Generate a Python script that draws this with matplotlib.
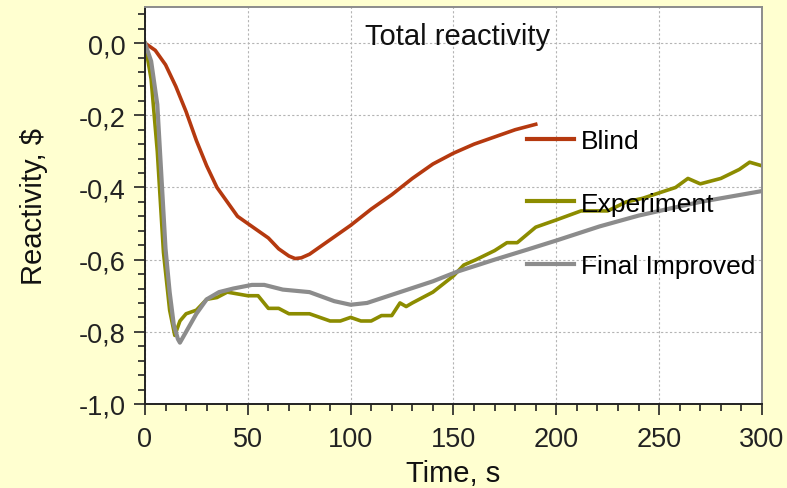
import matplotlib
matplotlib.use("Agg")
import matplotlib.pyplot as plt
from matplotlib.ticker import MultipleLocator, FuncFormatter

plt.rcParams['font.family'] = ['Liberation Sans', 'DejaVu Sans']

# Total reactivity vs time, three cases
blind_t = [0, 5, 10, 15, 20, 25, 30, 35, 40, 45, 50, 55, 60, 65, 70, 73, 76,
           80, 90, 100, 110, 120, 130, 140, 150, 160, 170, 180, 190]
blind_v = [0, -0.02, -0.06, -0.12, -0.19, -0.27, -0.34, -0.40, -0.44, -0.48,
           -0.50, -0.52, -0.54, -0.57, -0.59, -0.597, -0.595, -0.585, -0.545,
           -0.505, -0.46, -0.42, -0.375, -0.335, -0.305, -0.28, -0.26, -0.24,
           -0.225]

exp_t = [0, 3, 6, 9, 12, 14.5, 17, 20, 25, 30, 35, 40, 45, 50, 55, 60, 65, 70,
         80, 90, 95, 100, 105, 110, 115, 120, 124, 127, 130, 140, 150, 155, 161,
         170, 176, 181, 190, 200, 212, 225, 234, 242, 250, 258, 264, 270, 280,
         289, 294, 300]
exp_v = [0, -0.10, -0.30, -0.58, -0.74, -0.81, -0.77, -0.75, -0.74, -0.71,
         -0.705, -0.69, -0.695, -0.70, -0.70, -0.735, -0.735, -0.75, -0.75,
         -0.77, -0.77, -0.76, -0.77, -0.77, -0.755, -0.755, -0.72, -0.73,
         -0.72, -0.69, -0.645, -0.615, -0.60, -0.575, -0.553, -0.553, -0.51,
         -0.49, -0.465, -0.465, -0.44, -0.43, -0.415, -0.40, -0.375, -0.39,
         -0.375, -0.35, -0.33, -0.34]

fin_t = [0, 3, 6, 8, 10, 12, 14, 16, 17, 20, 25, 30, 36, 43, 52, 58, 67, 80,
         92, 100, 108, 116, 124, 140, 152, 170, 186, 200, 221, 240, 254, 270,
         285, 300]
fin_v = [0, -0.05, -0.17, -0.37, -0.57, -0.69, -0.78, -0.82, -0.83, -0.80,
         -0.75, -0.71, -0.69, -0.68, -0.67, -0.67, -0.683, -0.69, -0.715,
         -0.725, -0.72, -0.705, -0.69, -0.66, -0.633, -0.60, -0.572, -0.547,
         -0.508, -0.478, -0.46, -0.44, -0.425, -0.41]

bg = '#FFFFD0'
fig = plt.figure(figsize=(7.87, 4.89), dpi=100, facecolor=bg)
ax = fig.add_axes([0.1842, 0.1718, 0.7840, 0.8118])
ax.set_facecolor('white')

ax.plot(blind_t, blind_v, color='#B5390F', lw=2.6, label='Blind')
ax.plot(exp_t, exp_v, color='#8C8C00', lw=2.6, label='Experiment')
ax.plot(fin_t, fin_v, color='#8C8C8C', lw=3.0, label='Final Improved')

ax.set_xlim(0, 300)
ax.set_ylim(-1.0, 0.1)
ax.xaxis.set_major_locator(MultipleLocator(50))
ax.xaxis.set_minor_locator(MultipleLocator(10))
ax.yaxis.set_major_locator(MultipleLocator(0.2))
ax.yaxis.set_minor_locator(MultipleLocator(0.04))
ax.yaxis.set_major_formatter(FuncFormatter(lambda v, p: f"{v:.1f}".replace('.', ',').replace('-0,0', '0,0')))

ax.tick_params(axis='both', which='major', direction='out', length=8, width=1.2,
               labelsize=19.5, colors='#222222', pad=6)
ax.tick_params(axis='both', which='minor', direction='out', length=5, width=1.2,
               colors='#222222')
ax.tick_params(axis='x', pad=8)

ax.grid(True, which='major', color='#B4B4B4', linestyle=(0, (2, 2)), lw=0.8)

for side in ['left', 'bottom']:
    ax.spines[side].set_color('#222222')
    ax.spines[side].set_linewidth(1.4)
for side in ['top', 'right']:
    ax.spines[side].set_color('#8C8C8C')
    ax.spines[side].set_linewidth(1.4)

ax.set_xlabel('Time, s', fontsize=21, color='#111111', labelpad=5)
ax.set_ylabel('Reactivity, $', fontsize=21, color='#111111', labelpad=22)

ax.text(152, 0.02, 'Total reactivity', fontsize=21, ha='center', va='center',
        color='#111111')

leg = ax.legend(loc='upper left', bbox_to_anchor=(0.619, 0.692), frameon=False,
                fontsize=19, handlelength=1.8, handletextpad=0.25,
                labelspacing=1.45, borderpad=0, borderaxespad=0)
for line in leg.get_lines():
    line.set_linewidth(3)

fig.savefig('out.png', dpi=100, facecolor=bg)
